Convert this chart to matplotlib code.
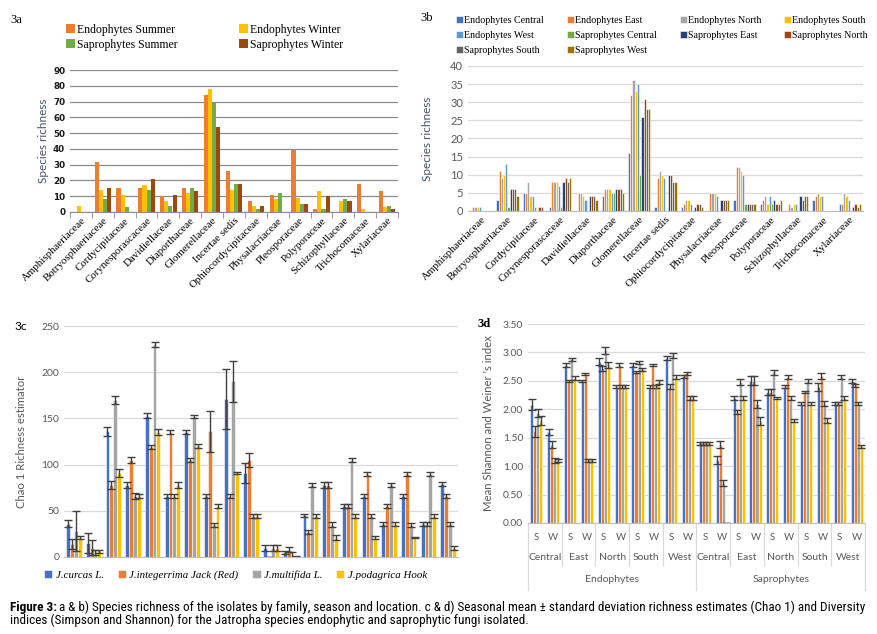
import numpy as np
import matplotlib
matplotlib.use("Agg")
import matplotlib.pyplot as plt
from matplotlib.lines import Line2D
from matplotlib.text import Annotation
from matplotlib import font_manager

W, H = 878, 634

# ---------- data ----------
families = ["Amphisphaeriaceae", "Botryosphaeriaceae", "Cordycipitaceae", "Corynesporascaceae",
            "Davidiellaceae", "Diaporthaceae", "Glomerellaceae", "Incertae sedis",
            "Ophiocordycipitaceae", "Physalacriaceae", "Pleosporaceae", "Polyporaceae",
            "Schizophyllaceae", "Trichocomaceae", "Xylariaceae"]

# 3a: season
endo_summer = [0, 32, 15, 15, 10, 15, 74, 26, 7, 11, 39, 2, 0, 18, 13]
endo_winter = [4, 14, 11, 17, 7, 12, 78, 14, 4, 8, 9, 13, 7, 2, 3]
sapro_summer = [0, 8, 3, 14, 4, 15, 69, 18, 2, 12, 5, 2, 8, 0, 4]
sapro_winter = [0, 15, 0, 21, 11, 13, 54, 18, 4, 0, 5, 10, 7, 0, 2]

# 3b: location
endo_central = [0, 3, 5, 1, 0, 4, 16, 1, 1, 0, 3, 2, 0, 3, 2]
endo_east = [1, 11, 5, 8, 5, 6, 32, 9, 2, 5, 12, 3, 2, 4, 2]
endo_north = [1, 9, 8, 8, 5, 6, 36, 11, 3, 5, 12, 4, 1, 5, 5]
endo_south = [1, 10, 4, 8, 4, 6, 33, 10, 3, 5, 11, 2, 2, 4, 4]
endo_west = [1, 13, 4, 7, 3, 5, 35, 9, 2, 4, 10, 4, 2, 4, 3]
sapro_central = [0, 1, 1, 1, 0, 5, 10, 0, 0, 0, 2, 2, 0, 0, 0]
sapro_east = [0, 6, 0, 8, 4, 6, 26, 10, 1, 3, 2, 3, 4, 0, 1]
sapro_north = [0, 6, 1, 9, 4, 6, 31, 10, 2, 3, 2, 2, 3, 0, 2]
sapro_south = [0, 6, 1, 8, 4, 6, 28, 8, 2, 3, 2, 2, 4, 0, 1]
sapro_west = [0, 4, 0, 9, 3, 5, 28, 8, 1, 3, 2, 3, 4, 0, 2]

# 3c: Chao 1 (20 groups) mean and sd per species
curcas = [36, 15, 136, 78, 153, 66, 135, 66, 171, 91, 10, 5, 45, 78, 55, 66, 36, 66, 36, 79]
curcas_sd = [4, 11, 5, 3, 3, 2, 2, 2, 32, 11, 3, 2, 2, 3, 2, 2, 2, 2, 2, 2]
integ = [14, 10, 78, 105, 119, 135, 105, 136, 66, 105, 0, 8, 27, 78, 55, 90, 55, 90, 36, 66]
integ_sd = [5, 8, 4, 3, 2, 2, 2, 22, 2, 8, 0, 3, 2, 3, 2, 2, 2, 2, 2, 2]
multi = [28, 5, 170, 66, 230, 66, 152, 35, 190, 44, 10, 2, 78, 35, 105, 44, 78, 35, 90, 36]
multi_sd = [22, 3, 4, 3, 3, 2, 2, 2, 22, 2, 3, 3, 2, 3, 2, 2, 2, 2, 2, 2]
podag = [21, 6, 91, 66, 135, 78, 120, 55, 91, 44, 10, 0.5, 44, 21, 44, 21, 36, 21, 44, 10]
podag_sd = [2, 2, 4, 2, 3, 3, 2, 2, 1, 2, 3, 0.3, 2, 3, 2, 2, 2, 0.5, 2, 2]

# 3d: Shannon index (20 groups)
sh_curcas = [2.08, 1.60, 2.78, 2.50, 2.84, 2.40, 2.78, 2.40, 2.90, 2.58,
             1.40, 1.10, 2.20, 2.50, 2.30, 2.40, 2.10, 2.40, 2.10, 2.50]
sh_curcas_sd = [0.10, 0.05, 0.03, 0.02, 0.06, 0.03, 0.03, 0.03, 0.03, 0.03,
                0.02, 0.07, 0.03, 0.08, 0.05, 0.03, 0.02, 0.07, 0.03, 0.03]
sh_integ = [1.61, 1.38, 2.50, 2.62, 2.72, 2.78, 2.65, 2.78, 2.40, 2.63,
            1.40, 1.38, 1.95, 2.50, 2.30, 2.57, 2.30, 2.58, 2.10, 2.42]
sh_integ_sd = [0.09, 0.06, 0.02, 0.02, 0.05, 0.03, 0.02, 0.02, 0.05, 0.03,
               0.02, 0.06, 0.03, 0.08, 0.05, 0.03, 0.02, 0.05, 0.03, 0.03]
sh_multi = [1.94, 1.10, 2.88, 1.10, 3.04, 2.40, 2.82, 2.40, 2.95, 2.20,
            1.40, 0.70, 2.48, 2.10, 2.65, 2.20, 2.50, 2.10, 2.57, 2.10]
sh_multi_sd = [0.07, 0.04, 0.03, 0.02, 0.06, 0.03, 0.03, 0.03, 0.04, 0.03,
               0.02, 0.05, 0.05, 0.07, 0.04, 0.03, 0.03, 0.05, 0.03, 0.03]
sh_podag = [1.80, 1.10, 2.55, 1.10, 2.78, 2.40, 2.70, 2.48, 2.57, 2.20,
            1.40, 0.0, 2.20, 1.80, 2.20, 1.80, 2.10, 1.80, 2.20, 1.35]
sh_podag_sd = [0.08, 0.03, 0.04, 0.02, 0.05, 0.03, 0.02, 0.03, 0.03, 0.03,
               0.02, 0.0, 0.03, 0.07, 0.02, 0.03, 0.03, 0.04, 0.03, 0.03]

seasons = ["S", "W"]
regions = ["Central", "East", "North", "South", "West"]
groups = ["Endophytes", "Saprophytes"]

# ---------- styling ----------
BLUE, ORANGE, GRAY, YELLOW = "#4472C4", "#ED7D31", "#A5A5A5", "#FFC000"
LBLUE, GREEN, DBLUE, BROWN, DGRAY, OLIVE = "#5B9BD5", "#70AD47", "#264478", "#9E480E", "#636363", "#997300"
TXT = "#595959"
SERIF = "Liberation Serif"
SANS = "Lato"

fig = plt.figure(figsize=(W / 100, H / 100), dpi=100)


def ax_px(x0, y0, x1, y1):
    return fig.add_axes([x0 / W, 1 - y1 / H, (x1 - x0) / W, (y1 - y0) / H])


def style(ax, gridc="#D9D9D9"):
    for s in ["top", "right", "left"]:
        ax.spines[s].set_visible(False)
    ax.spines["bottom"].set_color("#BFBFBF")
    ax.yaxis.grid(True, color=gridc, lw=0.9)
    ax.set_axisbelow(True)
    ax.tick_params(axis="y", length=0, colors=TXT, labelsize=6.8)
    for t in ax.get_yticklabels():
        t.set_family(SANS)


def grouped(ax, series, colors, width, errs=None, edge="white"):
    n = len(series)
    x = np.arange(len(series[0]))
    w = width / n
    for i, (vals, c) in enumerate(zip(series, colors)):
        pos = x - width / 2 + w * (i + 0.5)
        ax.bar(pos, vals, w, color=c, edgecolor=edge, linewidth=0.4)
        if errs is not None:
            ax.errorbar(pos, vals, yerr=errs[i], fmt="none", ecolor="#404040",
                        elinewidth=1, capsize=2.6, capthick=1)
    ax.set_xlim(-0.5, len(series[0]) - 0.5)
    return x


# ---------- 3a ----------
ax = ax_px(70, 70, 398, 212)
x = grouped(ax, [endo_summer, endo_winter, sapro_summer, sapro_winter],
            [ORANGE, YELLOW, GREEN, BROWN], 0.75, edge="none")
style(ax, gridc="#8C8C8C")
ax.spines["bottom"].set_color("#8C8C8C")
ax.set_ylim(0, 90)
ax.set_yticks(range(0, 91, 10))
ax.tick_params(axis="y", colors="#1a1a1a", labelsize=6.3)
for t in ax.get_yticklabels():
    t.set_family("DejaVu Sans")
    t.set_fontweight("bold")
ax.set_xticks(x)
ax.set_xticklabels(families, rotation=45, ha="right", rotation_mode="anchor",
                   family=SERIF, fontsize=7.8)
ax.tick_params(axis="x", length=0, pad=3)
ax.set_xticks(np.arange(-0.5, 15, 1), minor=True)
ax.tick_params(axis="x", which="minor", length=4, color="#8C8C8C")
ax.set_ylabel("Species richness", family=SANS, fontsize=8.5, color="#44546A", labelpad=3)
h = ax.containers
fig.legend([h[0], h[2], h[1], h[3]],
           ["Endophytes Summer", "Saprophytes Summer", "Endophytes Winter", "Saprophytes Winter"],
           ncol=2, loc="upper left", bbox_to_anchor=(61 / W, 1 - 19 / H), frameon=False,
           prop={"family": SERIF, "size": 8.5}, handlelength=0.75, handleheight=0.75,
           handletextpad=0.2, columnspacing=5.2, labelspacing=0.25, borderaxespad=0)
fig.text(10 / W, 1 - 20 / H, "3a", family=SERIF, fontsize=9, va="center")

# ---------- 3b ----------
ax = ax_px(468, 66, 863, 211)
x = grouped(ax, [endo_central, endo_east, endo_north, endo_south, endo_west,
                 sapro_central, sapro_east, sapro_north, sapro_south, sapro_west],
            [BLUE, ORANGE, GRAY, YELLOW, LBLUE, GREEN, DBLUE, BROWN, DGRAY, OLIVE], 0.85)
style(ax)
ax.set_ylim(0, 40)
ax.set_yticks(range(0, 41, 5))
ax.tick_params(axis="y", labelsize=8)
ax.set_xticks(x)
ax.set_xticklabels(families, rotation=45, ha="right", rotation_mode="anchor",
                   family=SERIF, fontsize=7.8)
ax.tick_params(axis="x", length=0, pad=3)
ax.set_ylabel("Species richness", family=SANS, fontsize=8.5, color="#44546A", labelpad=12)
h = ax.containers[:]
order = [0, 4, 8, 1, 5, 9, 2, 6, 3, 7]
labs = ["Endophytes Central", "Endophytes East", "Endophytes North", "Endophytes South",
        "Endophytes West", "Saprophytes Central", "Saprophytes East", "Saprophytes North",
        "Saprophytes South", "Saprophytes West"]
fig.legend([h[i] for i in order], [labs[i] for i in order],
           ncol=4, loc="upper left", bbox_to_anchor=(452 / W, 1 - 12 / H), frameon=False,
           prop={"family": SERIF, "size": 7.2}, handlelength=0.7, handleheight=0.7,
           handletextpad=0.1, columnspacing=2.3, labelspacing=0.62, borderaxespad=0)
fig.text(420 / W, 1 - 18 / H, "3b", family=SERIF, fontsize=9, va="center")

# ---------- 3c ----------
ax = ax_px(64, 326, 458, 557)
grouped(ax, [curcas, integ, multi, podag], [BLUE, ORANGE, GRAY, YELLOW], 0.78,
        errs=[curcas_sd, integ_sd, multi_sd, podag_sd])
style(ax)
ax.set_ylim(0, 250)
ax.set_yticks(range(0, 251, 50))
ax.tick_params(axis="y", labelsize=7.5)
ax.set_xticks([])
ax.set_ylabel("Chao 1 Richness estimator", family=SANS, fontsize=8.2, color=TXT, labelpad=10)
h = ax.containers
bars = [c for c in h if hasattr(c, "patches")][:4]
fig.legend(bars, ["J.curcas L.", "J.integerrima Jack (Red)", "J.multifida L.", "J.podagrica Hook"],
           ncol=4, loc="center left", bbox_to_anchor=(40 / W, 1 - 575 / H), frameon=False,
           prop={"family": SERIF, "size": 7.8, "style": "italic"}, handlelength=0.75,
           handleheight=0.75, handletextpad=0.3, columnspacing=1.3, borderaxespad=0)
fig.text(14 / W, 1 - 326 / H, "3c", family=SANS, fontsize=8.5, va="center")

# ---------- 3d ----------
ax = ax_px(528, 324, 865, 523)
x = grouped(ax, [sh_curcas, sh_integ, sh_multi, sh_podag], [BLUE, ORANGE, GRAY, YELLOW], 0.72,
            errs=[sh_curcas_sd, sh_integ_sd, sh_multi_sd, sh_podag_sd])
style(ax)
ax.set_ylim(0, 3.5)
ax.set_yticks(np.arange(0, 3.51, 0.5))
ax.set_yticklabels([f"{v:.2f}" for v in np.arange(0, 3.51, 0.5)])
for t in ax.get_yticklabels():
    t.set_family(SANS)
ax.tick_params(axis="y", labelsize=7.5)
ax.set_xticks([])
ax.set_ylabel("Mean Shannon and Weiner 's index", family=SANS, fontsize=8.2, color=TXT, labelpad=6)
tr = ax.get_xaxis_transform()
ah = 523 - 324
k = 0
for gi, g in enumerate(groups):
    for ri, r in enumerate(regions):
        for si, s in enumerate(seasons):
            ax.text(x[k], -15 / ah, s, transform=tr, ha="center", va="center",
                    family=SANS, fontsize=7, color=TXT)
            k += 1
        ax.text(k - 1.5, -35 / ah, r, transform=tr, ha="center", va="center",
                family=SANS, fontsize=7.5, color=TXT)
        if ri > 0:
            ax.add_line(Line2D([k - 2.5, k - 2.5], [0, -42 / ah], transform=tr,
                               color="#D9D9D9", lw=0.9, clip_on=False))
    ax.text(k - 5.5, -56 / ah, g, transform=tr, ha="center", va="center",
            family=SANS, fontsize=7.5, color=TXT)
for xb in [-0.5, 9.5, 19.5]:
    ax.add_line(Line2D([xb, xb], [0, -67 / ah], transform=tr,
                       color="#D9D9D9", lw=0.9, clip_on=False))
fig.text(478 / W, 1 - 324 / H, "3d", family=SERIF, fontsize=9, fontweight="bold", va="center")

# ---------- caption ----------
avail = {f.name for f in font_manager.fontManager.ttflist}
cap_font = "Liberation Sans"
for cand in ["Liberation Sans Narrow", "DejaVu Sans Condensed", "Roboto Condensed"]:
    if cand in avail:
        cap_font = cand
        break
cap1 = ("a & b) Species richness of the isolates by family, season and location. c & d) Seasonal mean \u00b1 "
        "standard deviation richness estimates (Chao 1) and Diversity")
cap2 = "indices (Simpson and Shannon) for the Jatropha species endophytic and saprophytic fungi isolated."
size = 10.5
t0 = fig.text(10 / W, 1 - 607 / H, "Figure 3:", family=cap_font, fontsize=size,
              fontweight="bold", va="center")
t1 = Annotation(cap1, xy=(1, 0.5), xycoords=t0, xytext=(2.5, 0), textcoords="offset pixels",
                va="center", family=cap_font, fontsize=size)
fig.add_artist(t1)
t2 = fig.text(10 / W, 1 - 620 / H, cap2, family=cap_font, fontsize=size, va="center")
r = fig.canvas.get_renderer()
while size > 5:
    if t1.get_window_extent(r).x1 <= 874:
        break
    size -= 0.1
    for t in (t0, t1, t2):
        t.set_fontsize(size)

fig.savefig("out.png", dpi=100)
